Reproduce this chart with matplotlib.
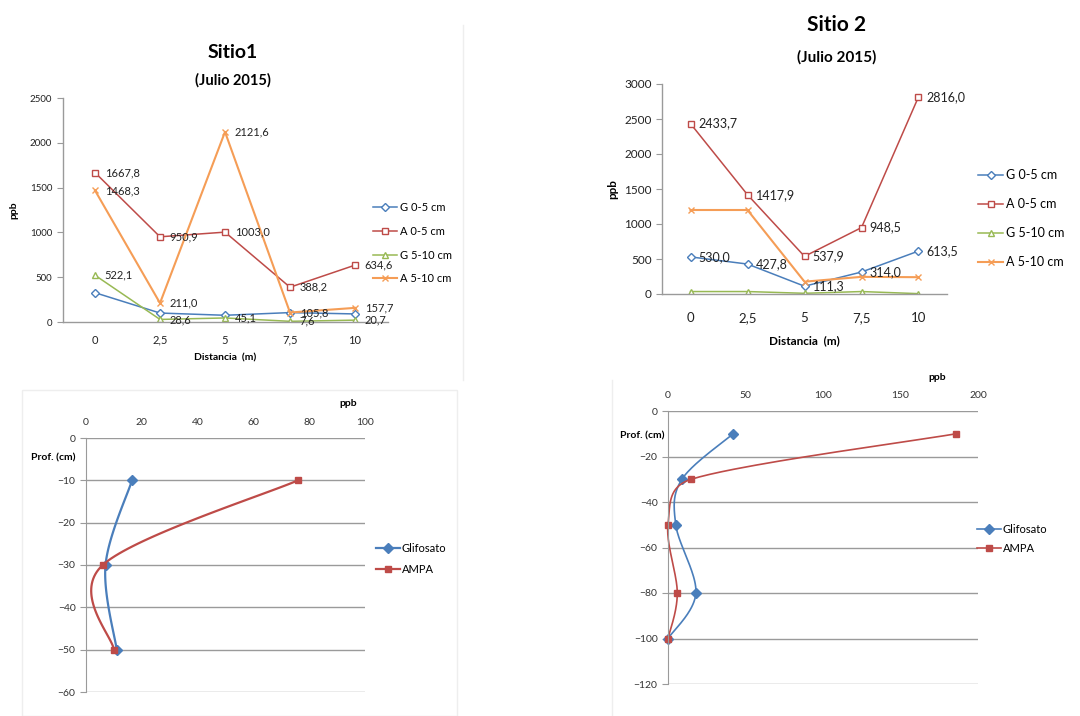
import matplotlib.pyplot as plt
import numpy as np

plt.rcParams['font.family'] = ['Lato', 'DejaVu Sans']

W, H = 1080, 716

# Sitio 1 - concentrations along the transect (ppb)
distancias = ["0", "2,5", "5", "7,5", "10"]
s1_g_0_5 = [327, 100, 75, 105, 90]
s1_a_0_5 = [1667.8, 950.9, 1003.0, 388.2, 634.6]
s1_g_5_10 = [522.1, 28.6, 45.1, 7.6, 20.7]
s1_a_5_10 = [1468.3, 211.0, 2121.6, 105.8, 157.7]

# Sitio 2
s2_g_0_5 = [530.0, 427.8, 111.3, 314.0, 613.5]
s2_a_0_5 = [2433.7, 1417.9, 537.9, 948.5, 2816.0]
s2_g_5_10 = [35, 35, 10, 35, 5]
s2_a_5_10 = [1200, 1200, 176, 245, 240]

# depth profiles
s1_prof = [-10, -30, -50]
s1_glifosato = [16.5, 7, 11]
s1_ampa = [76, 6, 10]

s2_prof = [-10, -30, -50, -80, -100]
s2_glifosato = [42, 9, 5, 18, 0]
s2_ampa = [186, 15, 0, 6, 0]

series_labels = ["G 0-5 cm", "A 0-5 cm", "G 5-10 cm", "A 5-10 cm"]

BLUE = "#4a7ebb"
RED = "#be4b48"
GREEN = "#98b954"
ORANGE = "#f59d56"
AXIS = "#9a9a9a"


def px_axes(fig, x0, y0, x1, y1):
    return fig.add_axes([x0 / W, 1 - y1 / H, (x1 - x0) / W, (y1 - y0) / H])


def fmt(v):
    return f"{v:.1f}".replace(".", ",")


def smooth(xs, ys, sx, sy, n=40):
    # bezier smoothing like the spreadsheet "smoothed line" option,
    # worked out in screen units (sx, sy = pixels per data unit)
    p = np.column_stack([np.asarray(xs) * sx, np.asarray(ys) * sy]).astype(float)
    out = [p[0]]
    for i in range(len(p) - 1):
        prev = p[i - 1] if i > 0 else p[i]
        nxt = p[i + 2] if i + 2 < len(p) else p[i + 1]
        seg_len = np.linalg.norm(p[i + 1] - p[i])
        t1 = (p[i + 1] - prev) / 6
        t2 = (nxt - p[i]) / 6
        # keep the handles from overshooting on short segments
        for t in (t1, t2):
            ln = np.linalg.norm(t)
            if ln > 0.5 * seg_len:
                t *= 0.5 * seg_len / ln
        c1 = p[i] + t1
        c2 = p[i + 1] - t2
        t = np.linspace(0, 1, n)[1:, None]
        seg = ((1 - t) ** 3 * p[i] + 3 * (1 - t) ** 2 * t * c1
               + 3 * (1 - t) * t ** 2 * c2 + t ** 3 * p[i + 1])
        out.extend(seg)
    out = np.array(out)
    return out[:, 0] / sx, out[:, 1] / sy


def style_line_axes(ax, ymax, ystep, fs, xfs, xpad):
    ax.set_xlim(-0.5, 4.5)
    ax.set_ylim(0, ymax)
    ax.set_yticks(np.arange(0, ymax + 1, ystep))
    ax.set_xticks(range(5))
    ax.set_xticklabels(distancias)
    for s in ["top", "right"]:
        ax.spines[s].set_visible(False)
    for s in ["left", "bottom"]:
        ax.spines[s].set_color(AXIS)
        ax.spines[s].set_linewidth(1.0)
    ax.tick_params(axis="y", colors=AXIS, labelcolor="#222222", labelsize=fs, length=4)
    ax.tick_params(axis="x", length=0, labelcolor="#222222", labelsize=xfs, pad=xpad)
    ax.patch.set_alpha(0)


def style_profile_axes(ax, xmax, xstep, ymin, ystep, fs):
    ax.set_xlim(0, xmax)
    ax.set_ylim(ymin, 0)
    ax.set_xticks(np.arange(0, xmax + 1, xstep))
    ax.set_yticks(np.arange(ymin, 1, ystep))
    ax.xaxis.tick_top()
    for s in ["top", "right", "bottom"]:
        ax.spines[s].set_visible(False)
    ax.spines["left"].set_color(AXIS)
    ax.grid(axis="y", color=AXIS, linewidth=1.0)
    ax.set_axisbelow(True)
    ax.tick_params(axis="y", colors=AXIS, labelcolor="#333333", labelsize=fs, length=4)
    ax.tick_params(axis="x", length=0, labelcolor="#333333", labelsize=fs, pad=8)
    ax.patch.set_alpha(0)


def draw_profile(ax, prof, glif, ampa, sx, sy, lw):
    gx, gy = smooth(glif, prof, sx, sy)
    ax.plot(gx, gy, color=BLUE, lw=lw, clip_on=False)
    ax.plot(glif, prof, ls="none", marker="D", ms=5, color=BLUE, clip_on=False)
    ax.plot([], [], color=BLUE, lw=lw, marker="D", ms=5, label="Glifosato")
    rx, ry = smooth(ampa, prof, sx, sy)
    ax.plot(rx, ry, color=RED, lw=lw, clip_on=False)
    ax.plot(ampa, prof, ls="none", marker="s", ms=5, color=RED, clip_on=False)
    ax.plot([], [], color=RED, lw=lw, marker="s", ms=5, label="AMPA")


fig = plt.figure(figsize=(W / 100, H / 100), dpi=100)
fig.patch.set_facecolor("white")

# faint chart-area borders
fig.add_artist(plt.Line2D([463 / W, 463 / W], [1 - 25 / H, 1 - 380 / H], color="#eeeeee", lw=1))
fig.add_artist(plt.Rectangle((22 / W, 0), (457 - 22) / W, 1 - 390 / H, fill=False,
                             edgecolor="#eeeeee", lw=1))
fig.add_artist(plt.Line2D([612 / W, 612 / W], [0, 1 - 380 / H], color="#eeeeee", lw=1))

# ---- Sitio 1, transect ----
ax1 = px_axes(fig, 62.5, 98, 387.5, 322)
x = np.arange(5)
ax1.plot(x, s1_g_0_5, color=BLUE, marker="D", ms=4, mfc="white", lw=1.1, label=series_labels[0])
ax1.plot(x, s1_a_0_5, color=RED, marker="s", ms=5, mfc="white", lw=1.1, label=series_labels[1])
ax1.plot(x, s1_g_5_10, color=GREEN, marker="^", ms=5, mfc="white", lw=1.1, label=series_labels[2])
ax1.plot(x, s1_a_5_10, color=ORANGE, marker="x", ms=5, lw=1.5, label=series_labels[3])
for vals in [s1_a_0_5, s1_g_5_10, s1_a_5_10]:
    for xi, v in zip(x, vals):
        ax1.annotate(fmt(v), (xi, v), xytext=(7, 0), textcoords="offset points",
                     va="center", ha="left", fontsize=8, color="#222222")
style_line_axes(ax1, 2500, 500, 7, 8, 9)
ax1.set_xlabel("Distancia  (m)", fontsize=7.5, fontweight="bold", labelpad=6)
ax1.set_ylabel("ppb", fontsize=7.5, fontweight="bold", labelpad=8)
ax1.legend(loc="upper left", bbox_to_anchor=(363 / W, 1 - 192 / H), bbox_transform=fig.transFigure,
           frameon=False, fontsize=8, handlelength=2.2, labelspacing=1.15, handletextpad=0.2)
fig.text(233 / W, 1 - 53 / H, "Sitio1", ha="center", va="center", fontsize=14, fontweight="bold")
fig.text(233 / W, 1 - 80 / H, "(Julio 2015)", ha="center", va="center", fontsize=10.5, fontweight="bold")

# ---- Sitio 2, transect ----
ax2 = px_axes(fig, 662, 84, 947, 294)
ax2.plot(x, s2_g_0_5, color=BLUE, marker="D", ms=4, mfc="white", lw=1.1, label=series_labels[0])
ax2.plot(x, s2_a_0_5, color=RED, marker="s", ms=5, mfc="white", lw=1.1, label=series_labels[1])
ax2.plot(x, s2_g_5_10, color=GREEN, marker="^", ms=5, mfc="white", lw=1.1, label=series_labels[2])
ax2.plot(x, s2_a_5_10, color=ORANGE, marker="x", ms=5, lw=1.5, label=series_labels[3])
for vals in [s2_a_0_5, s2_g_0_5]:
    for xi, v in zip(x, vals):
        ax2.annotate(fmt(v), (xi, v), xytext=(6, 0), textcoords="offset points",
                     va="center", ha="left", fontsize=9, color="#222222")
style_line_axes(ax2, 3000, 500, 8.5, 9.5, 13)
ax2.set_xlabel("Distancia  (m)", fontsize=8.5, fontweight="bold", labelpad=8)
ax2.set_ylabel("ppb", fontsize=8.5, fontweight="bold", labelpad=4)
ax2.legend(loc="upper left", bbox_to_anchor=(967 / W, 1 - 158 / H), bbox_transform=fig.transFigure,
           frameon=False, fontsize=9, handlelength=2.0, labelspacing=1.35, handletextpad=0.2)
fig.text(837 / W, 1 - 25 / H, "Sitio 2", ha="center", va="center", fontsize=15, fontweight="bold")
fig.text(837 / W, 1 - 57 / H, "(Julio 2015)", ha="center", va="center", fontsize=11, fontweight="bold")

# ---- Sitio 1, depth profile ----
ax3 = px_axes(fig, 86, 438, 365, 692)
draw_profile(ax3, s1_prof, s1_glifosato, s1_ampa, 279 / 100, 254 / 60, 1.6)
style_profile_axes(ax3, 100, 20, -60, 10, 7.5)
ax3.legend(loc="upper left", bbox_to_anchor=(366 / W, 1 - 533 / H), bbox_transform=fig.transFigure,
           frameon=False, fontsize=8, handlelength=2.2, labelspacing=0.9, handletextpad=0.1)
fig.text(348 / W, 1 - 403 / H, "ppb", ha="center", va="center", fontsize=7.5, fontweight="bold")
fig.text(53 / W, 1 - 458 / H, "Prof. (cm)", ha="center", va="center", fontsize=7.5, fontweight="bold")

# ---- Sitio 2, depth profile ----
ax4 = px_axes(fig, 668, 411, 978, 684)
draw_profile(ax4, s2_prof, s2_glifosato, s2_ampa, 310 / 200, 273 / 120, 1.2)
style_profile_axes(ax4, 200, 50, -120, 20, 7.5)
ax4.legend(loc="upper left", bbox_to_anchor=(967 / W, 1 - 514 / H), bbox_transform=fig.transFigure,
           frameon=False, fontsize=8, handlelength=2.2, labelspacing=0.7, handletextpad=0.1)
fig.text(937 / W, 1 - 377 / H, "ppb", ha="center", va="center", fontsize=7.5, fontweight="bold")
fig.text(642 / W, 1 - 436 / H, "Prof. (cm)", ha="center", va="center", fontsize=7.5, fontweight="bold")

fig.savefig("out.png", dpi=100)
